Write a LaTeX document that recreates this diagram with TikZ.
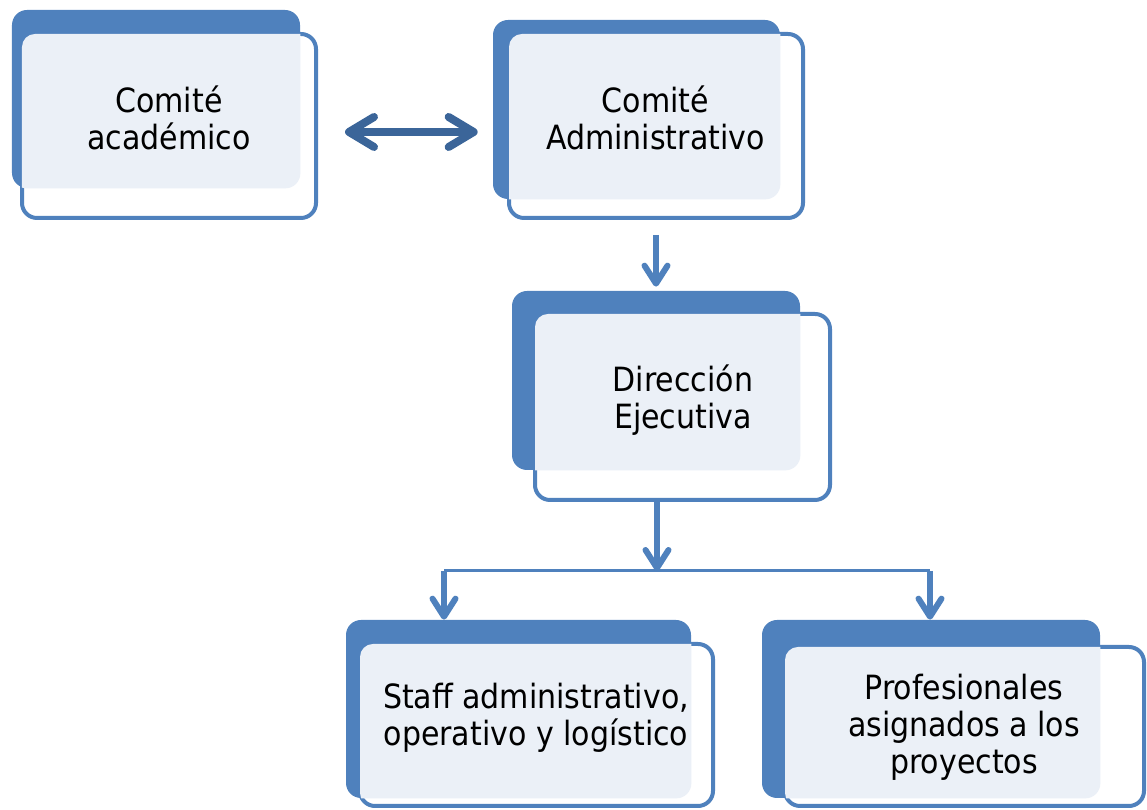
\documentclass[tikz,border=0pt]{standalone}
\usepackage{fontspec}
\setmainfont{DejaVu Sans Condensed}
\usetikzlibrary{arrows.meta, positioning, calc}
\definecolor{orgblue}{HTML}{4F81BD}
\definecolor{orgdark}{HTML}{3B6599}
\definecolor{orglight}{HTML}{EBF0F7}

\begin{document}
\begin{tikzpicture}[
    back/.style={rectangle, fill=orgblue, rounded corners=0.3cm, inner sep=0pt},
    front/.style={rectangle, draw=orgblue, fill=white, line width=0.08cm, rounded corners=0.3cm, inner sep=0pt},
    boxtext/.style={align=center, font=\fontsize{19}{21}\selectfont, text=black},
    arrow/.style={-{Straight Barb[round, length=0.36cm, width=0.46cm]}, line width=0.12cm, orgblue},
    dblarrow/.style={{Straight Barb[round, length=0.5cm, width=0.6cm]}-{Straight Barb[round, length=0.5cm, width=0.6cm]}, line width=0.16cm, orgdark},
    branch/.style={line width=0.06cm, orgblue}
]
\useasboundingbox (0,0) rectangle (22.94,16.2);

% Row 1: the two committees
\node[back, minimum width=5.76cm, minimum height=3.56cm] (acad-back) at (3.12,14.22) {};
\node[front, minimum width=5.88cm, minimum height=3.68cm] (acad) at (3.38,13.68) {};
\node[back, minimum width=5.74cm, minimum height=3.58cm] (admin-back) at (12.73,14.01) {};
\node[front, minimum width=5.88cm, minimum height=3.68cm] (admin) at (13.12,13.68) {};

% Row 2: the direction
\node[back, minimum width=5.76cm, minimum height=3.58cm] (direccion-back) at (13.12,8.59) {};
\node[front, minimum width=5.9cm, minimum height=3.72cm] (direccion) at (13.65,8.06) {};

% Row 3: the staff
\node[back, minimum width=6.9cm, minimum height=3.56cm] (staff-back) at (10.37,2.02) {};
\node[front, minimum width=7.06cm, minimum height=3.24cm] (staff) at (10.73,1.70) {};
\node[back, minimum width=6.76cm, minimum height=3.56cm] (prof-back) at (18.62,2.02) {};
\node[front, minimum width=7.18cm, minimum height=3.18cm] (prof) at (19.29,1.67) {};

% Light overlap of the two layers
\foreach \n in {acad, admin, direccion, staff, prof} {
  \begin{scope}
    \clip[rounded corners=0.26cm] ([shift={(0.04,0.04)}]\n.south west) rectangle ([shift={(-0.04,-0.04)}]\n.north east);
    \fill[orglight, rounded corners=0.3cm] (\n-back.south west) rectangle (\n-back.north east);
  \end{scope}
}

% Texts
\node[boxtext] (acad-text) at (3.38,13.85) {Comité\\académico};
\node[boxtext] (admin-text) at (13.11,13.84) {Comité\\Administrativo};
\node[boxtext] (direccion-text) at (13.66,8.2) {Dirección\\Ejecutiva};
\node[boxtext] (staff-text) at (10.72,1.84) {Staff administrativo,\\operativo y logístico};
\node[boxtext] (prof-text) at (19.28,1.65) {Profesionales\\asignados a los\\proyectos};

% Arrows
\draw[dblarrow, shorten <=0.54cm, shorten >=0.3cm] ([yshift=-0.12cm]acad.east) -- ([yshift=-0.12cm]acad.east -| admin-back.west);
\draw[arrow, shorten <=0.3cm, shorten >=0.08cm] (admin.south) -- (admin.south |- direccion-back.north);

% Branch to the staff
\coordinate (split) at (13.14,4.78);
\coordinate (split-l) at (8.88,4.78);
\coordinate (split-r) at (18.6,4.78);
\draw[arrow] (direccion.south -| split) -- (split);
\draw[branch] (split-l) -- (split-r);
\draw[arrow] (split-l) -- (split-l |- staff-back.north);
\draw[arrow] (split-r) -- (split-r |- prof-back.north);

\end{tikzpicture}
\end{document}
